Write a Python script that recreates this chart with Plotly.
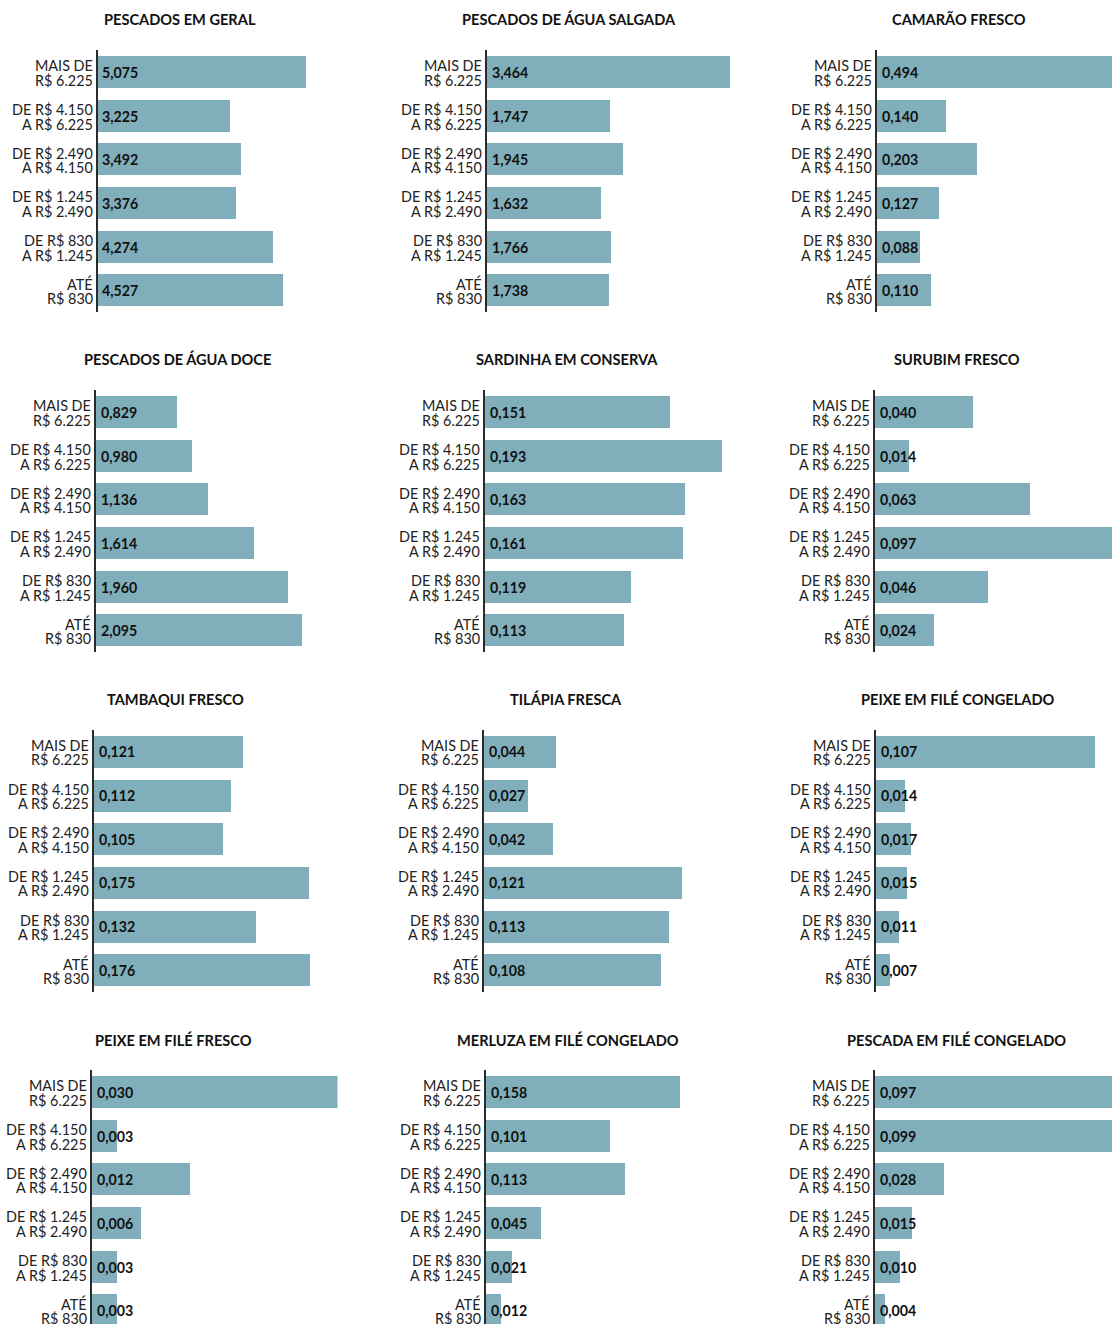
import plotly.graph_objects as go

# Income brackets (two-line labels)
bracket_line1 = ["MAIS DE", "DE R$ 4.150", "DE R$ 2.490", "DE R$ 1.245", "DE R$ 830", "ATÉ"]
bracket_line2 = ["R$ 6.225", "A R$ 6.225", "A R$ 4.150", "A R$ 2.490", "A R$ 1.245", "R$ 830"]

titles = [
    "PESCADOS EM GERAL", "PESCADOS DE ÁGUA SALGADA", "CAMARÃO FRESCO",
    "PESCADOS DE ÁGUA DOCE", "SARDINHA EM CONSERVA", "SURUBIM FRESCO",
    "TAMBAQUI FRESCO", "TILÁPIA FRESCA", "PEIXE EM FILÉ CONGELADO",
    "PEIXE EM FILÉ FRESCO", "MERLUZA EM FILÉ CONGELADO", "PESCADA EM FILÉ CONGELADO",
]

# Per-capita quantities (kg) by income bracket
pescados_geral = [5.075, 3.225, 3.492, 3.376, 4.274, 4.527]
agua_salgada = [3.464, 1.747, 1.945, 1.632, 1.766, 1.738]
camarao_fresco = [0.494, 0.140, 0.203, 0.127, 0.088, 0.110]
agua_doce = [0.829, 0.980, 1.136, 1.614, 1.960, 2.095]
sardinha_conserva = [0.151, 0.193, 0.163, 0.161, 0.119, 0.113]
surubim_fresco = [0.040, 0.014, 0.063, 0.097, 0.046, 0.024]
tambaqui_fresco = [0.121, 0.112, 0.105, 0.175, 0.132, 0.176]
tilapia_fresca = [0.044, 0.027, 0.042, 0.121, 0.113, 0.108]
file_congelado = [0.107, 0.014, 0.017, 0.015, 0.011, 0.007]
file_fresco = [0.030, 0.003, 0.012, 0.006, 0.003, 0.003]
merluza_file = [0.158, 0.101, 0.113, 0.045, 0.021, 0.012]
pescada_file = [0.097, 0.099, 0.028, 0.015, 0.010, 0.004]

series = [
    pescados_geral, agua_salgada, camarao_fresco,
    agua_doce, sardinha_conserva, surubim_fresco,
    tambaqui_fresco, tilapia_fresca, file_congelado,
    file_fresco, merluza_file, pescada_file,
]

# Nice upper bound of each panel's value axis
axis_max = [6, 3.5, 0.5, 2.5, 0.2, 0.1, 0.2, 0.15, 0.12, 0.03, 0.2, 0.1]

W, H = 1112, 1324
BAR_COLOR = "#80AFBB"
FONT = "Lato, 'Open Sans', sans-serif"

# Layout geometry (pixels)
axis_left = [[98, 487, 877], [96, 485, 875], [94, 484, 876], [92, 486, 875]]
row_top = [50, 390, 729.5, 1070]
band = 43.67
scale_w = 245.5

fig = go.Figure()
annotations = []
layout_axes = {}

for i, (title, vals) in enumerate(zip(titles, series)):
    r, c = divmod(i, 3)
    n = i + 1
    xref = "x" if n == 1 else f"x{n}"
    yref = "y" if n == 1 else f"y{n}"
    xkey = "xaxis" if n == 1 else f"xaxis{n}"
    ykey = "yaxis" if n == 1 else f"yaxis{n}"

    left = axis_left[r][c]
    right = min(left + scale_w, W)
    top = row_top[r]
    bottom = min(top + 6 * band, H)

    fig.add_trace(go.Bar(
        x=vals, y=list(range(len(vals))), orientation="h",
        width=0.733, marker=dict(color=BAR_COLOR, line=dict(width=0)),
        xaxis=xref, yaxis=yref, hoverinfo="skip", showlegend=False,
    ))

    layout_axes[xkey] = dict(
        domain=[left / W, right / W], anchor=yref,
        range=[0, axis_max[i] * (right - left) / scale_w],
        visible=False, fixedrange=True,
    )
    layout_axes[ykey] = dict(
        domain=[1 - bottom / H, 1 - top / H], anchor=xref,
        range=[-0.5 + (bottom - top) / band, -0.5],
        showline=True, linecolor="#2b2b2b", linewidth=1.5,
        showticklabels=False, ticks="", showgrid=False, zeroline=False,
        fixedrange=True,
    )

    # Panel title
    annotations.append(dict(
        text=f"<b>{title}</b>", xref="paper", yref="paper",
        x=(left + 81.5) / W, y=1 - (top - 30.5) / H,
        xanchor="center", yanchor="middle", showarrow=False,
        font=dict(family=FONT, size=14.6, color="#111111"),
    ))

    for k, v in enumerate(vals):
        # Bracket labels, right-aligned against the axis line
        for line, shift in ((bracket_line1[k], 6), (bracket_line2[k], -8.5)):
            annotations.append(dict(
                text=line, xref=f"{xref} domain", yref=yref,
                x=0, y=k, xanchor="right", yanchor="middle",
                xshift=-4, yshift=shift, showarrow=False, borderpad=0,
                font=dict(family=FONT, size=14.4, color="#222222"),
            ))
        # Value label at the start of the bar
        annotations.append(dict(
            text=f"<b>{v:.3f}</b>".replace(".", ","), xref=xref, yref=yref,
            x=0, y=k, xanchor="left", yanchor="middle",
            xshift=2.5, yshift=-0.5, showarrow=False,
            font=dict(family=FONT, size=14.2, color="#111111"),
        ))

fig.update_layout(
    width=W, height=H,
    margin=dict(l=0, r=0, t=0, b=0),
    paper_bgcolor="white", plot_bgcolor="white",
    bargap=0, annotations=annotations,
    **layout_axes,
)

fig.write_html("out.html", config={"displayModeBar": False})
